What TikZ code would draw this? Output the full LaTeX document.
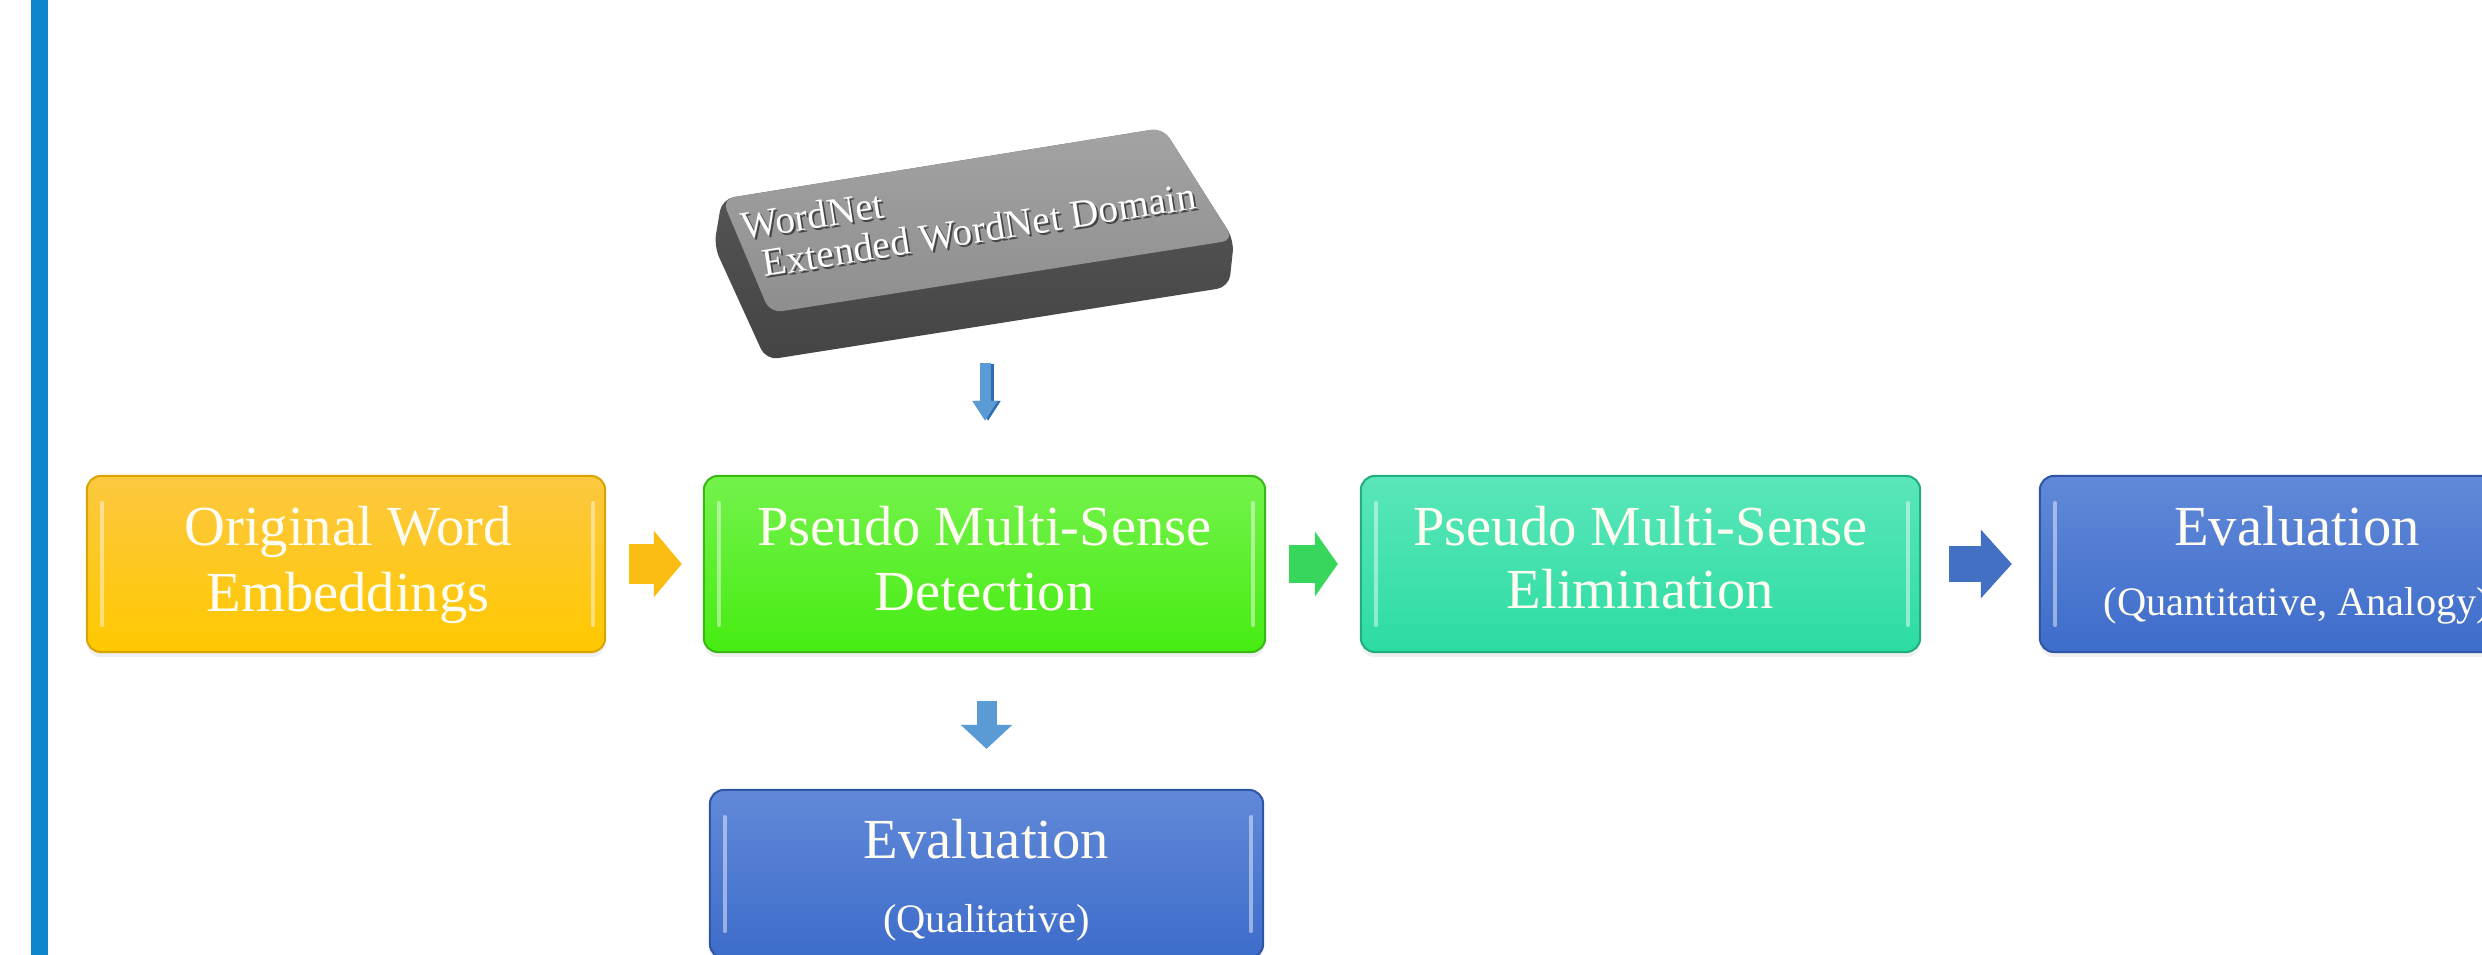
\documentclass[tikz,border=0pt]{standalone}
\usepackage{fontspec}
\setmainfont{Liberation Serif}
\usetikzlibrary{arrows.meta,calc,shadows}
\definecolor{barblue}{HTML}{0E86CF}
\definecolor{cream}{HTML}{FFFDF2}
\definecolor{yelT}{HTML}{FCC840}
\definecolor{yelB}{HTML}{FFC800}
\definecolor{yelD}{HTML}{D9A300}
\definecolor{grnT}{HTML}{74F24C}
\definecolor{grnB}{HTML}{46EC12}
\definecolor{grnD}{HTML}{38B812}
\definecolor{tealT}{HTML}{5AE6BA}
\definecolor{tealB}{HTML}{2CDCA2}
\definecolor{tealD}{HTML}{20AE80}
\definecolor{bluT}{HTML}{6189D8}
\definecolor{bluB}{HTML}{3D6CCA}
\definecolor{bluD}{HTML}{2E56A6}
\definecolor{arrY}{HTML}{FBBD14}
\definecolor{arrG}{HTML}{38D65A}
\definecolor{arrB}{HTML}{4470C4}
\definecolor{arrD}{HTML}{5B9BD5}
\definecolor{arrDD}{HTML}{2F6DB3}
\definecolor{slabT}{HTML}{A3A3A3}
\definecolor{slabB}{HTML}{8E8E8E}
\definecolor{slabS}{HTML}{5A5A5A}
\definecolor{slabSD}{HTML}{444444}
\begin{document}
\begin{tikzpicture}[x=0.01cm,y=-0.01cm,
  stage/.style n args={3}{rounded corners=0.14cm, minimum height=1.76cm,
    inner sep=0pt, top color=#1, bottom color=#2, draw=#3, line width=0.02cm,
    drop shadow={opacity=0.12,shadow xshift=0cm,shadow yshift=-0.05cm}},
  lbl/.style={text=cream, inner sep=0pt, anchor=base, font=\fontsize{16.1}{19}\selectfont},
  sublbl/.style={text=cream, inner sep=0pt, anchor=base, font=\fontsize{11.5}{14}\selectfont},
  slabtxt/.style={text=white, inner sep=0pt, anchor=base west, rotate=9, font=\fontsize{11.2}{13}\selectfont},
  slabsh/.style={text=slabSD, inner sep=0pt, anchor=base west, rotate=9, font=\fontsize{11.2}{13}\selectfont},
  bevel/.style={draw=white, opacity=0.45, line width=0.04cm, line cap=round},
  yflow/.style={draw=arrY, line width=0.40cm, -{Triangle[length=0.28cm,width=0.65cm]}, shorten <=0.23cm, shorten >=0.21cm},
  gflow/.style={draw=arrG, line width=0.38cm, -{Triangle[length=0.23cm,width=0.64cm]}, shorten <=0.23cm, shorten >=0.22cm},
  bflow/.style={draw=arrB, line width=0.36cm, -{Triangle[length=0.31cm,width=0.67cm]}, shorten <=0.28cm, shorten >=0.27cm},
  dflow/.style={draw=arrD, line width=0.20cm, -{Triangle[length=0.24cm,width=0.50cm]}, shorten <=0.48cm, shorten >=0.40cm},
  sflow/.style={draw=#1, line width=0.11cm, -{Triangle[length=0.20cm,width=0.24cm]}, shorten >=0.54cm},
]
\useasboundingbox (0,0) rectangle (2482,955);
\fill[white] (0,0) rectangle (2482,955);
\clip (0,0) rectangle (2482,955);

% left bar
\fill[barblue] (31,0) rectangle (48,955);

% WordNet slab
\shade[top color=slabS, bottom color=slabSD, rounded corners=0.12cm]
  (722,199) -- (1163,128) -- (1234,240) -- (1229,287) -- (766,360) -- (714,246) -- cycle;
\shade[top color=slabT, bottom color=slabB, rounded corners=0.12cm]
  (722,199) -- (1163,128) -- (1234,240) -- (770,313) -- cycle;
\node[slabsh]  (wn1s) at (745,242) {WordNet};
\node[slabtxt] (wn1)  at (743,240) {WordNet};
\node[slabsh]  (wn2s) at (766,279) {Extended WordNet Domain};
\node[slabtxt] (wn2)  at (764,277) {Extended WordNet Domain};
\coordinate (slabfoot) at (985,363);
\coordinate (slabfootd) at (988,364);

% stages
\node[stage={yelT}{yelB}{yelD}, minimum width=5.18cm] (orig) at (346,564) {};
\node[stage={grnT}{grnB}{grnD}, minimum width=5.61cm] (pmsd) at (984.5,564) {};
\node[stage={tealT}{tealB}{tealD}, minimum width=5.59cm] (pmse) at (1640.5,564) {};
\node[stage={bluT}{bluB}{bluD}, minimum width=5.14cm] (evalqa) at (2297,564) {};
\node[stage={bluT}{bluB}{bluD}, minimum width=5.53cm, minimum height=1.68cm] (evalq) at (986.5,874) {};

\foreach \n in {orig,pmsd,pmse,evalqa,evalq}{
  \draw[bevel] ($(\n.north west)+(16,28)$) -- ($(\n.south west)+(16,-28)$);
  \draw[bevel] ($(\n.north east)+(-13,28)$) -- ($(\n.south east)+(-13,-28)$);
}

% labels
\node[lbl] (orig-a) at (348,545) {Original Word};
\node[lbl] (orig-b) at (348,611) {Embeddings};
\node[lbl] (pmsd-a) at (984.5,545) {Pseudo Multi-Sense};
\node[lbl] (pmsd-b) at (984.5,610) {Detection};
\node[lbl] (pmse-a) at (1640.5,545) {Pseudo Multi-Sense};
\node[lbl] (pmse-b) at (1640.5,608) {Elimination};
\node[lbl] (evalqa-a) at (2297,545) {Evaluation};
\node[sublbl] (evalqa-b) at (2297,615) {(Quantitative, Analogy)};
\node[lbl] (evalq-a) at (986.5,858) {Evaluation};
\node[sublbl] (evalq-b) at (986.5,932) {(Qualitative)};

% connectors
\draw[yflow] (orig) -- (pmsd);
\draw[gflow] (pmsd) -- (pmse);
\draw[bflow] (pmse) -- (evalqa);
\draw[dflow] (evalq.north |- pmsd.south) -- (evalq.north);
\draw[sflow=arrDD] (slabfootd) -- (slabfootd |- pmsd.north);
\draw[sflow=arrD] (slabfoot) -- (slabfoot |- pmsd.north);
\end{tikzpicture}
\end{document}
